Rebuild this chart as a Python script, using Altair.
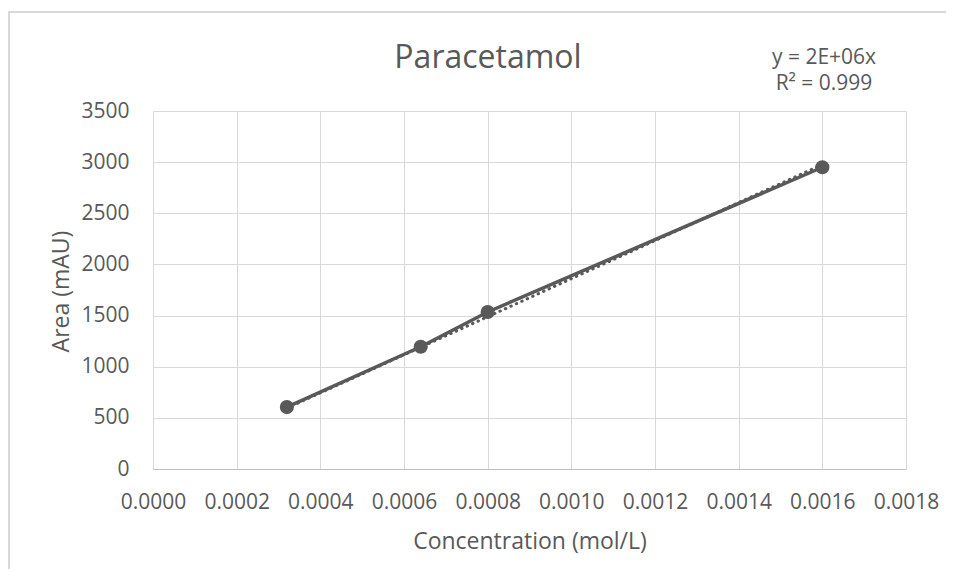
import altair as alt
import pandas as pd
import numpy as np

# Data
conc = [0.00032, 0.00064, 0.00080, 0.00160]
area = [605, 1195, 1535, 2950]

x_ticks = [0.0000, 0.0002, 0.0004, 0.0006, 0.0008, 0.0010, 0.0012, 0.0014, 0.0016, 0.0018]
y_ticks = [0, 500, 1000, 1500, 2000, 2500, 3000, 3500]

title_text = "Paracetamol"
eq_lines = ["y = 2E+06x", "R² = 0.999"]

# Linear trendline through the origin (least squares)
cx = np.array(conc)
ay = np.array(area)
slope = float((cx * ay).sum() / (cx * cx).sum())
trend = pd.DataFrame({"conc": [min(conc), max(conc)]})
trend["area"] = trend["conc"] * slope

df = pd.DataFrame({"conc": conc, "area": area})

FONT = "Open Sans"
GREY = "#595959"
W, H = 753, 358

xscale = alt.Scale(domain=[0, 0.0018], nice=False)
yscale = alt.Scale(domain=[0, 3500], nice=False)

xaxis = alt.Axis(
    values=x_ticks, format=".4f", title="Concentration (mol/L)",
    grid=True, gridColor="#d9d9d9", ticks=False, domain=True, domainColor="#bfbfbf",
    labelFont=FONT, labelFontSize=21, labelColor=GREY, labelPadding=22,
    labelOverlap=False, labelFlush=False,
    titleFont=FONT, titleFontSize=23, titleColor=GREY, titleFontWeight="normal",
    titleBaseline="alphabetic", titleY=79,
)
yaxis = alt.Axis(
    values=y_ticks, format="d", title="Area (mAU)",
    grid=True, gridColor="#d9d9d9", ticks=False, domain=False,
    labelFont=FONT, labelFontSize=21, labelColor=GREY, labelPadding=24,
    labelFlush=False,
    titleFont=FONT, titleFontSize=23, titleColor=GREY, titleFontWeight="normal",
    titleBaseline="alphabetic", titleX=-85, titleY=H / 2 + 1, titleAngle=-90,
)

base_x = alt.X("conc:Q", scale=xscale, axis=xaxis)
base_y = alt.Y("area:Q", scale=yscale, axis=yaxis)

line = alt.Chart(df).mark_line(color=GREY, strokeWidth=3.5).encode(x=base_x, y=base_y)
pts = alt.Chart(df).mark_circle(color=GREY, size=200, opacity=1).encode(x="conc:Q", y="area:Q")
trend_line = alt.Chart(trend).mark_line(
    color=GREY, strokeWidth=3, strokeDash=[0.5, 5.5], strokeCap="round"
).encode(x="conc:Q", y="area:Q")

title = alt.Chart(pd.DataFrame({"t": [title_text]})).mark_text(
    font=FONT, fontSize=32, color=GREY, align="center", baseline="alphabetic"
).encode(text="t:N", x=alt.value(335), y=alt.value(-43))

eq = alt.Chart(pd.DataFrame({"t": eq_lines, "yy": [-47, -21]})).mark_text(
    font=FONT, fontSize=21, color=GREY, align="center", baseline="alphabetic"
).encode(text="t:N", x=alt.value(671), y=alt.Y("yy:Q", scale=None, axis=None))

frame_top = alt.Chart(pd.DataFrame({"a": [0]})).mark_rule(color="#d9d9d9", strokeWidth=2).encode(
    x=alt.value(-145), x2=alt.value(900), y=alt.value(-99)
)
frame_left = alt.Chart(pd.DataFrame({"a": [0]})).mark_rule(color="#d9d9d9", strokeWidth=2).encode(
    x=alt.value(-144), y=alt.value(-99), y2=alt.value(560)
)

chart = alt.layer(frame_top, frame_left, line, trend_line, pts, title, eq).properties(
    width=W, height=H,
    autosize=alt.AutoSizeParams(type="none"),
    padding={"left": 145, "top": 103, "right": 40, "bottom": 100},
).configure_view(stroke=None).configure(background="white")

chart.save("out.html", embed_options={"renderer": "svg", "actions": False})
